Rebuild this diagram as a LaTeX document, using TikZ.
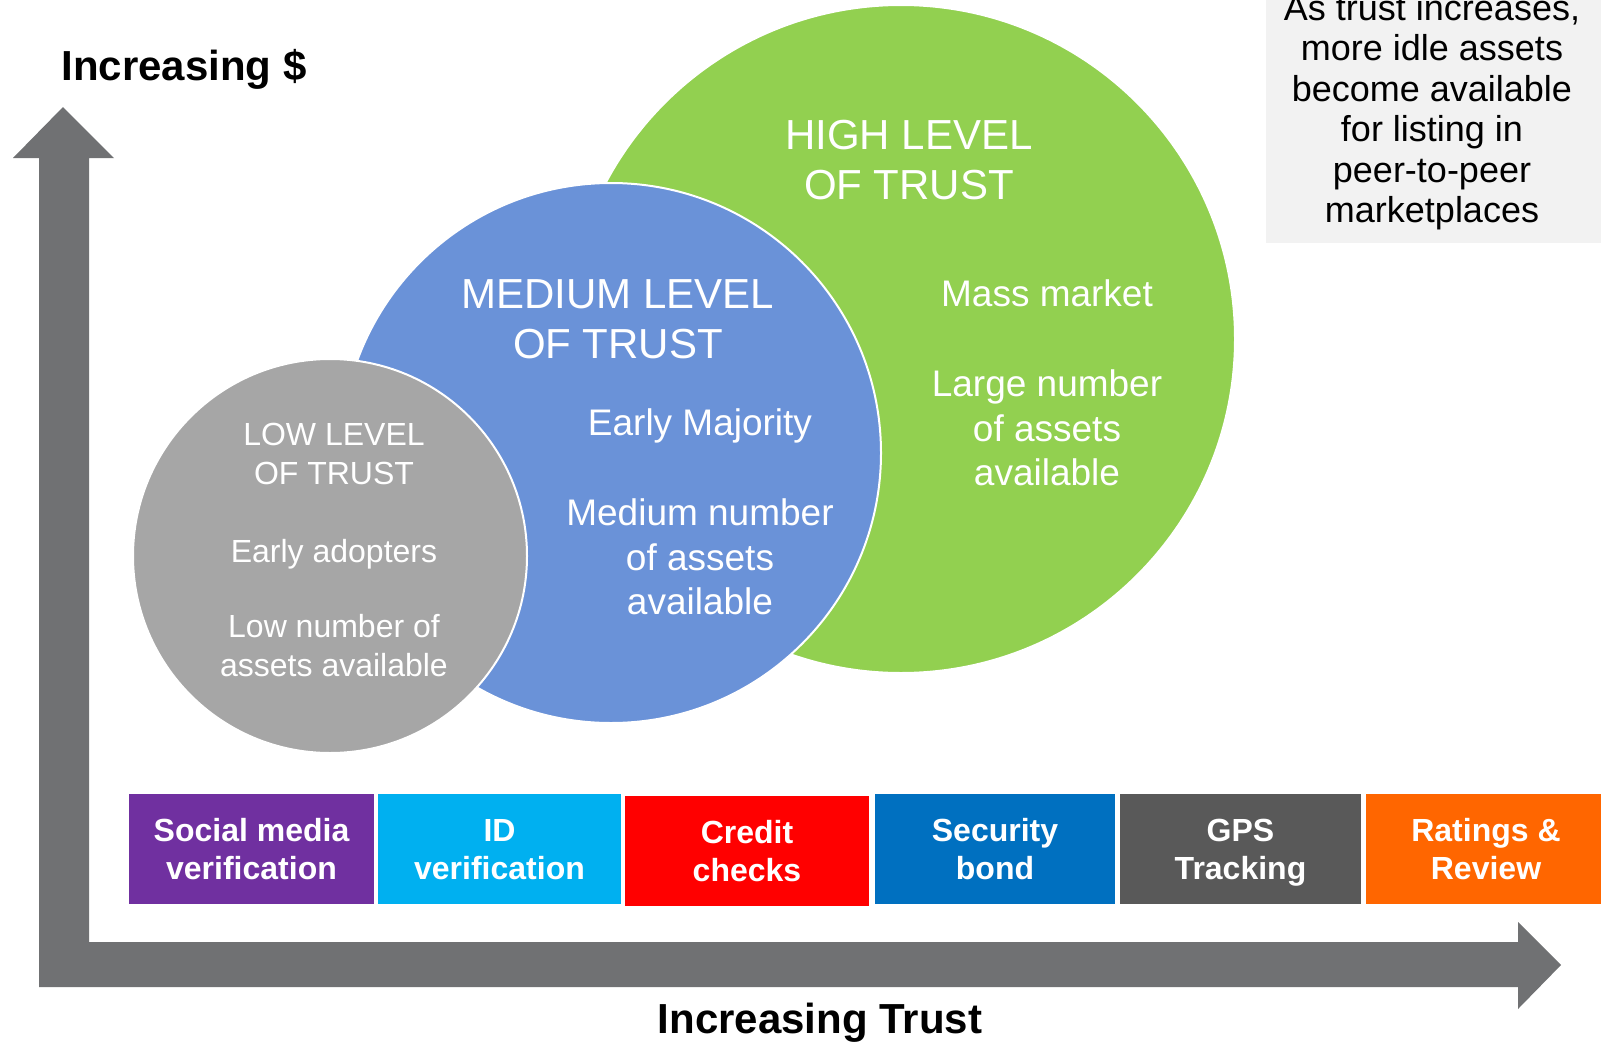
\documentclass[tikz,border=0pt]{standalone}
\usepackage{fontspec}
\setmainfont{Liberation Sans}
\usetikzlibrary{positioning}

\definecolor{axisgrey}{RGB}{112,113,115}
\definecolor{highgreen}{RGB}{146,208,80}
\definecolor{mediumblue}{RGB}{106,146,216}
\definecolor{lowgrey}{RGB}{166,166,166}
\definecolor{notegrey}{RGB}{242,242,242}
\definecolor{purplebox}{RGB}{112,48,160}
\definecolor{cyanbox}{RGB}{0,176,240}
\definecolor{redbox}{RGB}{255,0,0}
\definecolor{bluebox}{RGB}{0,112,192}
\definecolor{greybox}{RGB}{89,89,89}
\definecolor{orangebox}{RGB}{255,102,0}

\tikzset{
	trust/.style={circle, draw=white, line width=2pt, inner sep=0pt},
	title/.style={text=white, align=center, font=\fontsize{42}{50}\selectfont},
	body/.style={text=white, align=center, font=\fontsize{37}{44.5}\selectfont},
	axislabel/.style={anchor=base, font=\bfseries\fontsize{42}{50}\selectfont},
	check/.style={rectangle, inner sep=0pt, outer sep=0pt, minimum height=110pt, text depth=0pt, text=white, align=center, font=\bfseries\fontsize{32}{38}\selectfont},
}

\begin{document}
\begin{tikzpicture}[x=1pt, y=-1pt]
	\useasboundingbox (0,0) rectangle (1601,1044);
	
	\fill[axisgrey] (39,158) -- (13,158) -- (63,107) -- (114,158) -- (89,158) -- (89,942) -- (1518,942) -- (1518,922) -- (1561,965) -- (1518,1009) -- (1518,987) -- (39,987) -- cycle;
	\node[axislabel] (money) at (184,80) {Increasing \$};
	\node[axislabel] (trustaxis) at (820,1033) {Increasing Trust};
	
	\node[trust, fill=highgreen, minimum size=668pt] (high) at (901,339) {};
	\node[trust, fill=mediumblue, minimum size=540pt] (medium) at (611,453) {};
	\node[trust, fill=lowgrey, minimum size=394pt] (low) at (330,556) {};
	
	\node[title] (hightitle) at (909,160) {HIGH LEVEL\\OF TRUST};
	\node[body] (mass) at (1047,293) {Mass market};
	\node[body] (large) at (1047,428) {Large number\\of assets\\available};
	
	\node[title] (mediumtitle) at (618,319) {MEDIUM LEVEL\\OF TRUST};
	\node[body] (majority) at (700,426) {Early Majority};
	\node[body] (mediumnum) at (700,557) {Medium number\\of assets\\available};
	
	\node[title, font=\fontsize{32}{39}\selectfont] (lowtitle) at (334,454) {LOW LEVEL\\OF TRUST};
	\node[body, font=\fontsize{32}{39}\selectfont] (adopters) at (334,554) {Early adopters};
	\node[body, font=\fontsize{32}{39}\selectfont] (lownum) at (334,646) {Low number of\\assets available};
	
	\fill[notegrey] (1266,0) rectangle (1601,243);
	\node[align=center, font=\fontsize{36}{40.5}\selectfont] (note) at (1432,112) {As trust increases,\\more idle assets\\become available\\for listing in\\peer-to-peer\\marketplaces};
	
	\node[check, fill=purplebox, minimum width=245pt] (social) at (251.5,849) {Social media\\verification};
	\node[check, fill=cyanbox, minimum width=243pt, right=4pt of social] (id) {ID\\verification};
	\node[check, fill=redbox, minimum width=244pt, right=4pt of id, yshift=-2pt] (credit) {Credit\\checks};
	\node[check, fill=bluebox, minimum width=240pt, right=6pt of credit, yshift=2pt] (bond) {Security\\bond};
	\node[check, fill=greybox, minimum width=241pt, right=5pt of bond] (gps) {GPS\\Tracking};
	\node[check, fill=orangebox, minimum width=240pt, right=5pt of gps] (ratings) {Ratings \&\\Review};
\end{tikzpicture}
\end{document}
